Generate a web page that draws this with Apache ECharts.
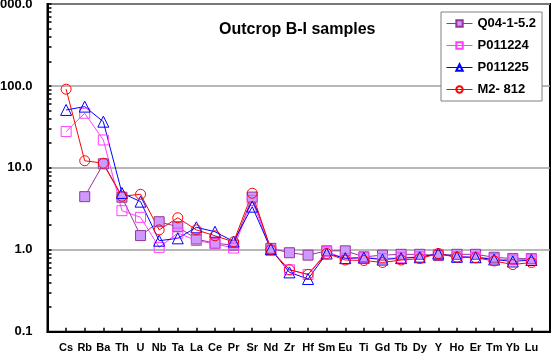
<!DOCTYPE html>
<html>
<head>
<meta charset="utf-8">
<script src="https://cdn.jsdelivr.net/npm/echarts@6/dist/echarts.min.js"></script>
<style>
  html, body { margin: 0; padding: 0; background: #fff; }
  #chart { width: 558px; height: 356px; }
</style>
</head>
<body>
<div id="chart"></div>
<script>
  // elements, normalised values
  var elements = ['Cs', 'Rb', 'Ba', 'Th', 'U', 'Nb', 'Ta', 'La', 'Ce', 'Pr', 'Sr', 'Nd', 'Zr',
    'Hf', 'Sm', 'Eu', 'Ti', 'Gd', 'Tb', 'Dy', 'Y', 'Ho', 'Er', 'Tm', 'Yb', 'Lu'];
  var q04 = [null, 4.45, 11.2, 4.38, 1.49, 2.20, 1.91, 1.35, 1.20, 1.14, 4.4, 1.04, 0.92,
    0.86, 0.97, 0.97, 0.82, 0.86, 0.88, 0.88, 0.85, 0.88, 0.88, 0.81, 0.78, 0.78];
  var p011224 = [27.7, 46.4, 21.9, 3.0, 2.49, 1.07, 1.6, 1.30, 1.18, 1.05, 4.0, 0.98, 0.57,
    0.50, 0.95, 0.78, 0.80, 0.78, 0.80, 0.82, 0.88, 0.82, 0.81, 0.78, 0.75, 0.77];
  var p011225 = [50.9, 55.9, 36.6, 4.94, 3.87, 1.29, 1.38, 1.88, 1.66, 1.26, 3.36, 1.02, 0.53,
    0.44, 0.90, 0.79, 0.80, 0.76, 0.79, 0.81, 0.90, 0.82, 0.81, 0.76, 0.72, 0.75];
  var m2812 = [91.2, 12.2, 11.4, 4.5, 4.76, 1.75, 2.46, 1.75, 1.48, 1.25, 4.9, 1.00, 0.57,
    0.50, 0.90, 0.75, 0.74, 0.70, 0.75, 0.78, 0.90, 0.81, 0.80, 0.73, 0.66, 0.70];
  var yTicks = [0.1, 1, 10, 100, 1000];

  // empty slot on each side of the category axis
  function pad(arr) { return [null].concat(arr, [null]); }

  var minorTicks = [];
  for (var d = 0; d < yTicks.length - 1; d++) {
    for (var k = 1; k < 10; k++) {
      minorTicks.push(+(yTicks[d] * k).toPrecision(3));
    }
  }
  minorTicks.push(1000);

  var fontFamily = 'Liberation Sans, Arial';
  var labelFont = { color: '#000', fontSize: 11, fontWeight: 'bold', fontFamily: fontFamily };

  function mk(name, data, symbol, line, fill, border) {
    return {
      name: name,
      type: 'line',
      data: pad(data),
      symbol: symbol,
      symbolSize: symbol === 'triangle' ? 11 : 10,
      connectNulls: false,
      lineStyle: { color: line, width: 1 },
      itemStyle: { color: fill, borderColor: border, borderWidth: 1 },
      emphasis: { disabled: true },
      z: 3
    };
  }

  var chart = echarts.init(document.getElementById('chart'));
  chart.setOption({
    animation: false,
    title: {
      text: 'Outcrop B-I samples',
      left: 219,
      top: 22,
      padding: 0,
      textStyle: { fontSize: 16, fontWeight: 'bold', color: '#000', fontFamily: fontFamily }
    },
    legend: {
      orient: 'vertical',
      left: 441,
      top: 12,
      padding: [5, 6, 5, 5],
      itemWidth: 26,
      itemHeight: 8,
      itemGap: 9,
      backgroundColor: '#fff',
      borderColor: '#808080',
      borderWidth: 1,
      lineStyle: { width: 1 },
      textStyle: { color: '#000', fontSize: 13, fontWeight: 'bold', fontFamily: fontFamily },
      data: ['Q04-1-5.2', 'P011224', 'P011225', 'M2- 812']
    },
    grid: {
      left: 47.5,
      right: 8,
      top: 4,
      bottom: 24.3,
      outerBoundsMode: 'none',
      containLabel: false,
      show: true,
      borderColor: '#000',
      borderWidth: 2,
      backgroundColor: 'transparent'
    },
    xAxis: {
      type: 'category',
      boundaryGap: false,
      data: [''].concat(elements, ['']),
      axisLine: { lineStyle: { color: '#000', width: 2 } },
      axisTick: { inside: true, length: 4, interval: 0, lineStyle: { color: '#000', width: 1.5 } },
      axisLabel: Object.assign({ interval: 0, margin: 11 }, labelFont),
      splitLine: { show: false }
    },
    yAxis: [{
      type: 'log',
      logBase: 10,
      min: 0.1,
      max: 1000,
      axisLine: { show: true, lineStyle: { color: '#000', width: 2 } },
      axisTick: { show: false },
      axisLabel: Object.assign({}, labelFont, {
        fontSize: 13,
        margin: 15,
        formatter: function (v) { return (+v).toFixed(1); }
      }),
      splitLine: { show: true, lineStyle: { color: '#a0a0a0', width: 1.5 } }
    }, {
      type: 'log',
      logBase: 10,
      min: 0.1,
      max: 1000,
      position: 'left',
      axisLine: { show: false },
      axisLabel: { show: false },
      splitLine: { show: false },
      axisTick: {
        show: true,
        inside: true,
        length: 4,
        customValues: minorTicks,
        lineStyle: { color: '#000', width: 1.5 }
      }
    }],
    series: [
      mk('Q04-1-5.2', q04, 'rect', '#993399', '#cc99ff', '#993399'),
      mk('P011224', p011224, 'rect', '#ff40ff', 'rgba(255,255,255,0)', '#ff40ff'),
      mk('P011225', p011225, 'triangle', '#0000ff', 'rgba(255,255,255,0)', '#0000ff'),
      mk('M2- 812', m2812, 'circle', '#ff0000', 'rgba(255,255,255,0)', '#ff0000')
    ]
  });
</script>
</body>
</html>
